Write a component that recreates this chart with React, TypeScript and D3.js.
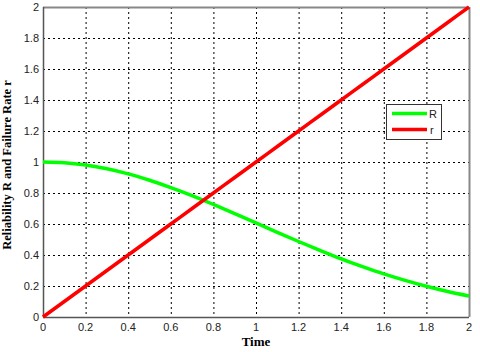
import React, { useEffect, useRef } from "react";
import * as d3 from "d3";

const timeValues = [0, 0.1, 0.2, 0.3, 0.4, 0.5, 0.6, 0.7, 0.8, 0.9, 1.0, 1.1, 1.2, 1.3, 1.4, 1.5, 1.6, 1.7, 1.8, 1.9, 2.0];
const reliabilityR = [1, 0.995, 0.98, 0.956, 0.923, 0.882, 0.835, 0.783, 0.726, 0.667, 0.607, 0.546, 0.487, 0.43, 0.375, 0.325, 0.278, 0.236, 0.198, 0.164, 0.135];
const failureRateR = [0, 0.1, 0.2, 0.3, 0.4, 0.5, 0.6, 0.7, 0.8, 0.9, 1.0, 1.1, 1.2, 1.3, 1.4, 1.5, 1.6, 1.7, 1.8, 1.9, 2.0];
const xTicks = [0, 0.2, 0.4, 0.6, 0.8, 1, 1.2, 1.4, 1.6, 1.8, 2];
const yTicks = [0, 0.2, 0.4, 0.6, 0.8, 1, 1.2, 1.4, 1.6, 1.8, 2];

export default function App() {
  const svgRef = useRef<SVGSVGElement>(null);

  useEffect(() => {
    const svg = d3.select(svgRef.current);
    svg.selectAll("*").remove();

    const left = 43, right = 469, top = 7, bottom = 317;
    const x = d3.scaleLinear().domain([0, 2]).range([left, right]);
    const y = d3.scaleLinear().domain([0, 2]).range([bottom, top]);

    svg.append("rect").attr("width", 480).attr("height", 352).attr("fill", "#fff");

    // grid
    const grid = svg.append("g").attr("stroke", "#000").attr("stroke-width", 1).attr("stroke-dasharray", "2,3");
    xTicks.slice(1, -1).forEach((t) => {
      grid.append("line").attr("x1", x(t) + 0.5).attr("x2", x(t) + 0.5).attr("y1", top).attr("y2", bottom);
    });
    yTicks.slice(1, -1).forEach((t) => {
      grid.append("line").attr("y1", y(t) + 0.5).attr("y2", y(t) + 0.5).attr("x1", left).attr("x2", right);
    });

    // frame
    svg.append("line").attr("x1", left).attr("x2", right).attr("y1", top + 0.5).attr("y2", top + 0.5).attr("stroke", "#888").attr("stroke-width", 2);
    svg.append("line").attr("x1", right + 0.5).attr("x2", right + 0.5).attr("y1", top).attr("y2", bottom).attr("stroke", "#888").attr("stroke-width", 2);
    svg.append("line").attr("x1", left).attr("x2", right).attr("y1", bottom + 0.5).attr("y2", bottom + 0.5).attr("stroke", "#555").attr("stroke-width", 1.5);
    svg.append("line").attr("x1", left + 0.5).attr("x2", left + 0.5).attr("y1", top).attr("y2", bottom).attr("stroke", "#555").attr("stroke-width", 1.5);

    // tick labels
    const tickFont = "Liberation Sans, Arial, sans-serif";
    xTicks.forEach((t) => {
      svg.append("text").attr("x", x(t)).attr("y", bottom + 14).attr("text-anchor", "middle")
        .attr("font-family", tickFont).attr("font-size", 11).attr("fill", "#222").text(String(t));
    });
    yTicks.forEach((t) => {
      svg.append("text").attr("x", left - 4).attr("y", y(t) + 4).attr("text-anchor", "end")
        .attr("font-family", tickFont).attr("font-size", 11).attr("fill", "#222").text(String(t));
    });

    // curves
    const line = d3.line<number>().x((d, i) => x(timeValues[i])).y((d) => y(d)).curve(d3.curveMonotoneX);
    svg.append("path").attr("d", line(reliabilityR)).attr("fill", "none").attr("stroke", "#00ff00").attr("stroke-width", 3.5);
    svg.append("path").attr("d", line(failureRateR)).attr("fill", "none").attr("stroke", "#ff0000").attr("stroke-width", 3.5);

    // legend
    const lg = svg.append("g");
    lg.append("rect").attr("x", 386.5).attr("y", 104.5).attr("width", 55).attr("height", 35).attr("fill", "#fff").attr("stroke", "#333").attr("stroke-width", 1);
    lg.append("line").attr("x1", 392).attr("x2", 427).attr("y1", 113.5).attr("y2", 113.5).attr("stroke", "#00ff00").attr("stroke-width", 3.5);
    lg.append("line").attr("x1", 392).attr("x2", 427).attr("y1", 129.5).attr("y2", 129.5).attr("stroke", "#ff0000").attr("stroke-width", 3.5);
    lg.append("text").attr("x", 429).attr("y", 118).attr("font-family", tickFont).attr("font-size", 11).attr("fill", "#222").text("R");
    lg.append("text").attr("x", 430).attr("y", 134).attr("font-family", tickFont).attr("font-size", 11).attr("fill", "#222").text("r");

    // axis titles
    svg.append("text").attr("x", 256).attr("y", 346).attr("text-anchor", "middle")
      .attr("font-family", "Liberation Serif, Times New Roman, serif").attr("font-weight", "bold").attr("font-size", 13).text("Time");
    svg.append("text").attr("transform", `translate(11, 165) rotate(-90)`).attr("text-anchor", "middle")
      .attr("font-family", "Liberation Serif, Times New Roman, serif").attr("font-weight", "bold").attr("font-size", 12.5).text("Reliability R and Failure Rate r");
  }, []);

  return (
    <svg ref={svgRef} width={480} height={352} style={{ position: "absolute", left: 0, top: 0 }} />
  );
}
